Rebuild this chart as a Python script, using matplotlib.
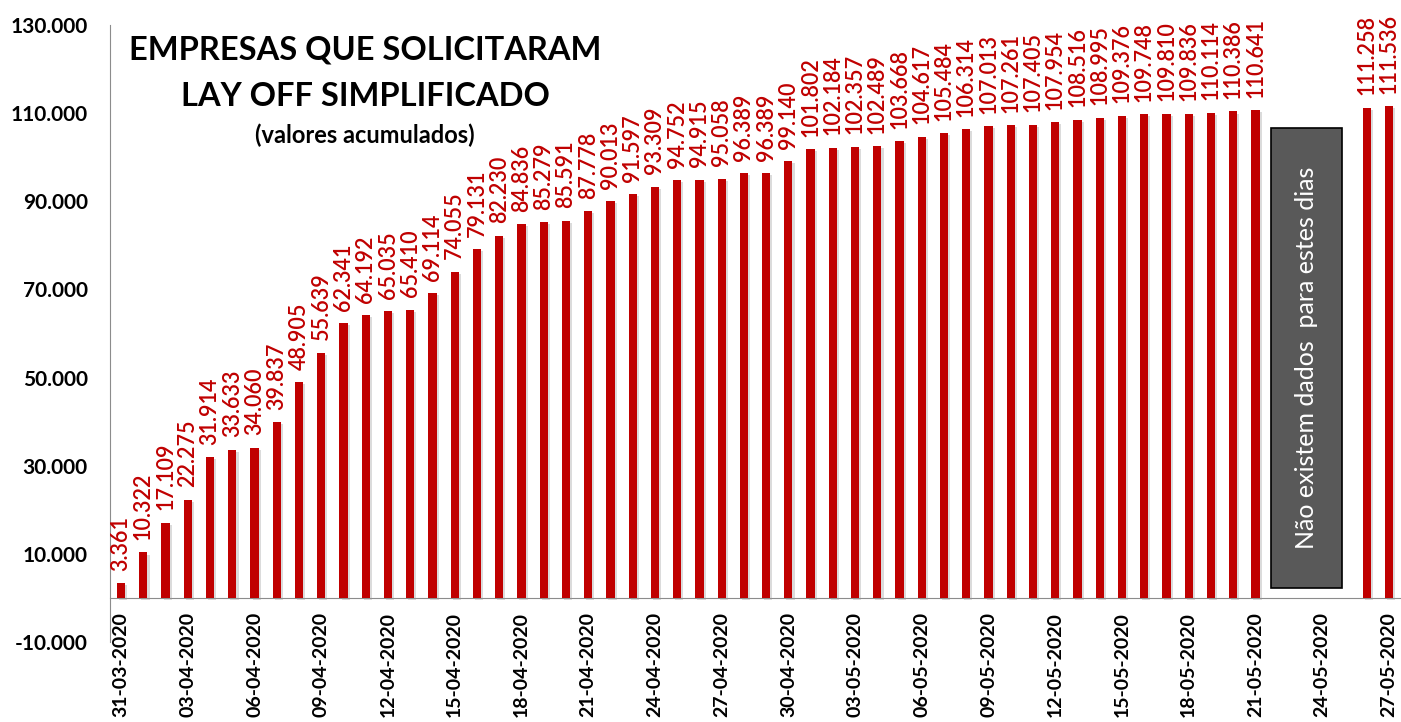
import matplotlib
matplotlib.use("Agg")
import matplotlib.pyplot as plt
import matplotlib.patheffects as pe
import pandas as pd

# categories: every day from 31-03-2020 to 27-05-2020
dates = pd.date_range("2020-03-31", "2020-05-27").strftime("%d-%m-%Y").tolist()

# cumulative values (None = no data for these days)
values = [3361, 10322, 17109, 22275, 31914, 33633, 34060, 39837, 48905, 55639,
          62341, 64192, 65035, 65410, 69114, 74055, 79131, 82230, 84836, 85279,
          85591, 87778, 90013, 91597, 93309, 94752, 94915, 95058, 96389, 96389,
          99140, 101802, 102184, 102357, 102489, 103668, 104617, 105484, 106314, 107013,
          107261, 107405, 107954, 108516, 108995, 109376, 109748, 109810, 109836, 110114,
          110386, 110641, None, None, None, None, 111258, 111536]

yticks = [-10000, 10000, 30000, 50000, 70000, 90000, 110000, 130000]

def fmt(v):
    return f"{v:,}".replace(",", ".")

plt.rcParams['font.family'] = ['Lato', 'DejaVu Sans']

fig = plt.figure(figsize=(14.01, 7.22), dpi=100)
ax = fig.add_axes([110/1401, 80/722, 1290/1401, 617/722])

red = "#C00000"
shadow = [pe.SimplePatchShadow(offset=(1.5, -1.5), shadow_rgbFace="#999999", alpha=0.35), pe.Normal()]

# spine position first (it resets the ticks)
for s in ["top", "right"]:
    ax.spines[s].set_visible(False)
ax.spines["bottom"].set_position(("data", 0))
ax.spines["bottom"].set_color("#8c8c8c")
ax.spines["left"].set_color("#8c8c8c")

xs = [i for i, v in enumerate(values) if v is not None]
hs = [v for v in values if v is not None]
bars = ax.bar(xs, hs, width=0.37, color=red, zorder=3)
for b in bars:
    b.set_path_effects(shadow)

for x, h in zip(xs, hs):
    ax.annotate(fmt(h), (x, h), xytext=(0, 9), textcoords="offset points",
                rotation=90, ha="center", va="bottom", color=red, fontsize=15.5,
                fontweight="semibold")

ax.set_xlim(-0.5, len(dates) - 0.5)
ax.set_ylim(-10000, 130000)
ax.set_yticks(yticks)
ax.set_yticklabels([fmt(t) for t in yticks], fontweight="bold", fontsize=15)
ax.tick_params(axis="y", length=0, pad=16)

ax.set_xticks(range(0, len(dates), 3))
ax.set_xticklabels(dates[::3], rotation=90, fontweight="bold", fontsize=14, va="top")
ax.tick_params(axis="x", length=0, pad=10)

# no-data box
ax.add_patch(plt.Rectangle((51.69, 2300), 3.19, 104300, facecolor="#595959",
                           edgecolor="black", linewidth=1.2, zorder=4))
ax.text(53.28, 54450, "Não existem dados  para estes dias", rotation=90,
        ha="center", va="center", color="white", fontsize=18, zorder=5)

fig.text(365/1401, 1 - 50/722, "EMPRESAS QUE SOLICITARAM", ha="center", va="center",
         fontsize=23.5, fontweight="bold")
fig.text(365/1401, 1 - 97/722, "LAY OFF SIMPLIFICADO", ha="center", va="center",
         fontsize=23.5, fontweight="bold")
fig.text(365/1401, 1 - 135/722, "(valores acumulados)", ha="center", va="center",
         fontsize=17, fontweight="bold")

fig.savefig("out.png", dpi=100)
